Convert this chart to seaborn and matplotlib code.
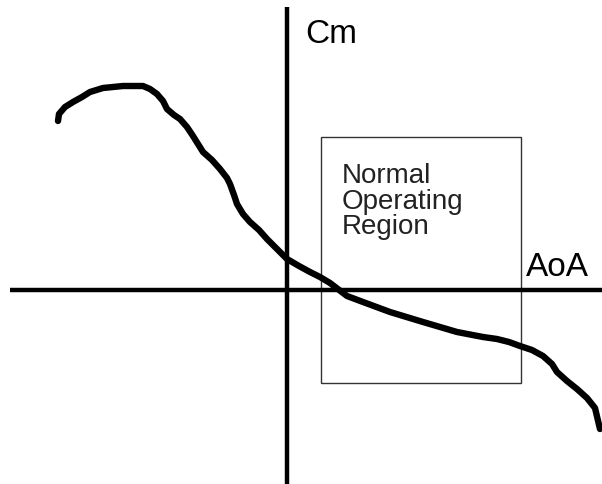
import matplotlib
matplotlib.use("Agg")
import matplotlib.pyplot as plt
import matplotlib.patches as patches
import numpy as np
import pandas as pd
import seaborn as sns

sns.set_style("white")
plt.rcParams['font.family'] = ['Liberation Sans', 'DejaVu Sans']

# sketch of pitching moment vs angle of attack (origin = axis crossing)
aoa = [-229, -228, -222, -214, -205, -197, -184, -164, -144, -137, -130, -124,
       -120, -113, -107, -100, -94, -84, -75, -67, -60, -57, -53, -50, -44, -37,
       -28, -20, -7, 0, 12, 23, 33, 43, 60, 76, 103, 136, 170, 196, 210, 222,
       233, 245, 256, 265, 270, 280, 290, 300, 308, 313]
cm = [169, 176, 183, 188, 193, 198, 202, 204, 204, 201, 196, 189,
      181, 175, 171, 163, 154, 138, 130, 121, 112, 106, 95, 86, 76, 68,
      60, 51, 38, 31, 24, 18, 13, 7, -6, -12, -22, -32, -42, -47, -49, -52,
      -56, -60, -66, -74, -82, -91, -99, -108, -118, -139]

axis_x = [-277, 315]
axis_y = [-194, 283]
region_x = [34, 234]
region_y = [-93, 153]
region_text = "Normal\nOperating\nRegion"

df = pd.DataFrame({"AoA": aoa, "Cm": cm})

fig = plt.figure(figsize=(6.02, 4.85), dpi=100)
ax = fig.add_axes([0, 0, 1, 1])
ax.set_xlim(-287, 315)
ax.set_ylim(-194, 291)
ax.axis("off")

ax.plot(axis_x, [0, 0], color="black", lw=3.2, solid_capstyle="butt")
ax.plot([0, 0], axis_y, color="black", lw=3.2, solid_capstyle="butt")

ax.add_patch(patches.Rectangle((region_x[0], region_y[0]), region_x[1] - region_x[0],
                               region_y[1] - region_y[0], fill=False,
                               edgecolor="#333333", lw=1.0))

sns.lineplot(data=df, x="AoA", y="Cm", sort=False, color="black", lw=4.6,
             ax=ax, legend=False)
ax.set_xlim(-287, 315)
ax.set_ylim(-194, 291)

ax.text(18, 256, "Cm", fontsize=24, va="center", ha="left", color="black")
ax.text(239, 23, "AoA", fontsize=24, va="center", ha="left", color="black")
ax.text(55, 128, region_text, fontsize=20, va="top", ha="left",
        linespacing=0.98, color="#222222")

fig.savefig("out.png", dpi=100)
